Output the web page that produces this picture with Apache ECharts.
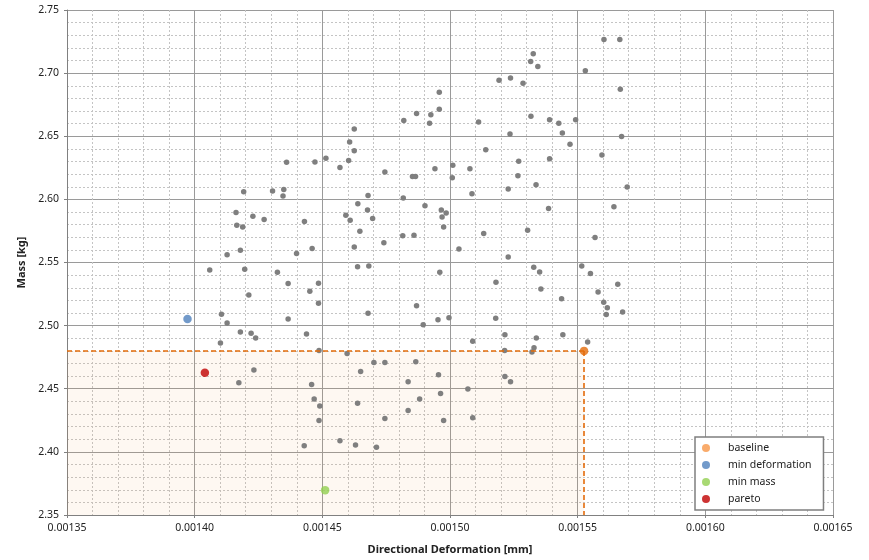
<!DOCTYPE html>
<html>
<head>
<meta charset="utf-8">
<script src="https://cdn.jsdelivr.net/npm/echarts@6/dist/echarts.min.js"></script>
<style>
  html, body { margin: 0; padding: 0; background: #fff; }
  #main { width: 869px; height: 560px; }
</style>
</head>
<body>
<div id="main"></div>
<script>
// axis ranges
const xRange = [0.00135, 0.00165];
const yRange = [2.35, 2.75];

// highlighted designs [deformation, mass]
const baselinePt = [0.0015525, 2.480];
const minDeformationPt = [0.0013972, 2.5052];
const minMassPt = [0.0014511, 2.3697];
const paretoPt = [0.0014040, 2.4627];

// all other evaluated designs [deformation, mass]
const designPoints = [
  [0.0014360, 2.6295], [0.0014192, 2.6061], [0.0014305, 2.6066], [0.0014349, 2.6079], [0.0014346, 2.6027],
  [0.0015326, 2.7153], [0.0015316, 2.7093], [0.0015344, 2.7053], [0.0015530, 2.7019], [0.0015192, 2.6943],
  [0.0015237, 2.6961], [0.0015286, 2.6919], [0.0014958, 2.6848], [0.0014958, 2.6714], [0.0014819, 2.6625],
  [0.0014869, 2.6681], [0.0014925, 2.6670], [0.0014920, 2.6602], [0.0015112, 2.6612], [0.0015317, 2.6659],
  [0.0015390, 2.6630], [0.0015426, 2.6602], [0.0015492, 2.6630], [0.0015440, 2.6525], [0.0015470, 2.6436],
  [0.0015235, 2.6517], [0.0014625, 2.6557], [0.0014607, 2.6454], [0.0014625, 2.6386], [0.0014603, 2.6307],
  [0.0014514, 2.6326], [0.0014471, 2.6297], [0.0014569, 2.6252], [0.0014745, 2.6216], [0.0014853, 2.6181],
  [0.0014865, 2.6181], [0.0014941, 2.6242], [0.0015011, 2.6271], [0.0015009, 2.6171], [0.0015078, 2.6242],
  [0.0015140, 2.6394], [0.0015269, 2.6302], [0.0015266, 2.6187], [0.0015390, 2.6321], [0.0015228, 2.6082],
  [0.0015337, 2.6116], [0.0015086, 2.6045], [0.0014679, 2.6031], [0.0014817, 2.6011], [0.0015603, 2.7266],
  [0.0015665, 2.7266], [0.0015667, 2.6872], [0.0015672, 2.6499], [0.0015595, 2.6352], [0.0015694, 2.6098],
  [0.0014162, 2.5897], [0.0014228, 2.5866], [0.0014272, 2.5840], [0.0014165, 2.5795], [0.0014188, 2.5782],
  [0.0014127, 2.5562], [0.0014179, 2.5598], [0.0014399, 2.5572], [0.0014059, 2.5440], [0.0014196, 2.5446],
  [0.0014324, 2.5422], [0.0014366, 2.5333], [0.0014212, 2.5243], [0.0014105, 2.5091], [0.0014127, 2.5020],
  [0.0014366, 2.5052], [0.0014179, 2.4950], [0.0014221, 2.4939], [0.0014239, 2.4902], [0.0014101, 2.4863],
  [0.0014232, 2.4648], [0.0014173, 2.4548], [0.0014639, 2.5966], [0.0014677, 2.5916], [0.0014592, 2.5874],
  [0.0014609, 2.5834], [0.0014697, 2.5848], [0.0014430, 2.5824], [0.0014647, 2.5748], [0.0014741, 2.5656],
  [0.0014815, 2.5711], [0.0014859, 2.5716], [0.0014902, 2.5950], [0.0014966, 2.5916], [0.0014985, 2.5893],
  [0.0014969, 2.5861], [0.0014975, 2.5782], [0.0014460, 2.5611], [0.0014625, 2.5622], [0.0014638, 2.5467],
  [0.0014682, 2.5472], [0.0015035, 2.5606], [0.0015132, 2.5730], [0.0015386, 2.5927], [0.0015304, 2.5756],
  [0.0015228, 2.5543], [0.0015328, 2.5462], [0.0015351, 2.5425], [0.0015356, 2.5291], [0.0015437, 2.5212],
  [0.0015516, 2.5472], [0.0015550, 2.5412], [0.0014960, 2.5422], [0.0014485, 2.5336], [0.0014451, 2.5273],
  [0.0014485, 2.5178], [0.0014869, 2.5157], [0.0014679, 2.5099], [0.0014895, 2.5007], [0.0014953, 2.5047],
  [0.0014996, 2.5062], [0.0015180, 2.5344], [0.0015179, 2.5058], [0.0014438, 2.4934], [0.0014487, 2.4802],
  [0.0014597, 2.4779], [0.0015089, 2.4876], [0.0015215, 2.4928], [0.0015338, 2.4902], [0.0015442, 2.4928],
  [0.0015214, 2.4802], [0.0015329, 2.4824], [0.0015321, 2.4792], [0.0015539, 2.4871], [0.0014702, 2.4708],
  [0.0014745, 2.4708], [0.0014866, 2.4713], [0.0014650, 2.4637], [0.0014955, 2.4611], [0.0015215, 2.4597],
  [0.0015237, 2.4556], [0.0014458, 2.4534], [0.0014836, 2.4556], [0.0015070, 2.4498], [0.0015642, 2.5942],
  [0.0015568, 2.5698], [0.0015657, 2.5328], [0.0015580, 2.5267], [0.0015602, 2.5186], [0.0015616, 2.5141],
  [0.0015612, 2.5089], [0.0015676, 2.5107], [0.0014468, 2.4419], [0.0014490, 2.4364], [0.0014638, 2.4385],
  [0.0014487, 2.4248], [0.0014745, 2.4264], [0.0014836, 2.4327], [0.0014881, 2.4419], [0.0014963, 2.4463],
  [0.0014975, 2.4248], [0.0015089, 2.4270], [0.0014429, 2.4049], [0.0014569, 2.4088], [0.0014630, 2.4054],
  [0.0014712, 2.4036]
];

const legendNames = ['baseline', 'min deformation', 'min mass', 'pareto'];

const FONT = 'Noto Sans';

const chart = echarts.init(document.getElementById('main'));

const majorLine = { show: true, lineStyle: { color: '#9a9a9a', width: 1 } };
const minorLine = { show: true, lineStyle: { color: '#c4c4c4', width: 1, type: [2, 2] } };

const option = {
  animation: false,
  backgroundColor: '#fff',
  grid: { left: 67, right: 36, top: 10, bottom: 42, containLabel: false },
  legend: {
    data: legendNames,
    orient: 'vertical',
    left: 695,
    top: 437,
    padding: [5, 12, 5, 7],
    itemGap: 5,
    itemWidth: 8,
    itemHeight: 8,
    icon: 'circle',
    borderColor: '#7f7f7f',
    borderWidth: 1.5,
    backgroundColor: '#fff',
    textStyle: { fontFamily: FONT, fontSize: 10.5, color: '#222', lineHeight: 12, padding: [0, 0, 0, 13] }
  },
  xAxis: {
    type: 'value',
    min: xRange[0],
    max: xRange[1],
    interval: 0.00005,
    name: 'Directional Deformation [mm]',
    nameLocation: 'middle',
    nameGap: 29,
    nameTextStyle: { fontFamily: FONT, fontSize: 11, fontWeight: 'bold', color: '#222' },
    axisLine: { show: true, lineStyle: { color: '#808080', width: 1 } },
    axisTick: { show: true, length: 3, lineStyle: { color: '#808080' } },
    axisLabel: {
      fontFamily: FONT, fontSize: 10.5, color: '#222', margin: 8,
      formatter: v => v.toFixed(5)
    },
    splitLine: majorLine,
    minorTick: { show: false, splitNumber: 5 },
    minorSplitLine: minorLine
  },
  yAxis: {
    type: 'value',
    min: yRange[0],
    max: yRange[1],
    interval: 0.05,
    name: 'Mass [kg]',
    nameLocation: 'middle',
    nameGap: 31,
    nameTextStyle: { fontFamily: FONT, fontSize: 11, fontWeight: 'bold', color: '#222' },
    axisLine: { show: true, lineStyle: { color: '#808080', width: 1 } },
    axisTick: { show: true, length: 3, lineStyle: { color: '#808080' } },
    axisLabel: {
      fontFamily: FONT, fontSize: 10.5, color: '#222', margin: 8,
      formatter: v => v.toFixed(2)
    },
    splitLine: majorLine,
    minorTick: { show: false, splitNumber: 5 },
    minorSplitLine: minorLine
  },
  series: [
    {
      name: 'designs',
      type: 'scatter',
      symbolSize: 5.5,
      itemStyle: { color: '#7f7f7f', opacity: 1 },
      data: designPoints,
      silent: true,
      z: 3
    },
    {
      name: 'baseline',
      type: 'scatter',
      symbolSize: 8.5,
      itemStyle: { color: '#F79646' },
      data: [{ value: baselinePt, itemStyle: { color: '#E46C0A' } }],
      z: 4,
      markArea: {
        silent: true,
        itemStyle: { color: 'rgba(247,150,70,0.07)' },
        data: [[{ coord: [xRange[0], yRange[0]] }, { coord: baselinePt }]]
      },
      markLine: {
        silent: true,
        symbol: 'none',
        label: { show: false },
        lineStyle: { color: '#E46C0A', width: 1.6, type: [5, 3] },
        data: [
          [{ coord: [xRange[0], baselinePt[1]] }, { coord: baselinePt }],
          [{ coord: baselinePt }, { coord: [baselinePt[0], yRange[0]] }]
        ]
      }
    },
    {
      name: 'min deformation',
      type: 'scatter',
      symbolSize: 8.5,
      itemStyle: { color: '#4F81BD' },
      data: [minDeformationPt],
      z: 4
    },
    {
      name: 'min mass',
      type: 'scatter',
      symbolSize: 8.5,
      itemStyle: { color: '#92D050' },
      data: [minMassPt],
      z: 4
    },
    {
      name: 'pareto',
      type: 'scatter',
      symbolSize: 8.5,
      itemStyle: { color: '#C00000' },
      data: [paretoPt],
      z: 4
    }
  ]
};

chart.setOption(option);
</script>
</body>
</html>
